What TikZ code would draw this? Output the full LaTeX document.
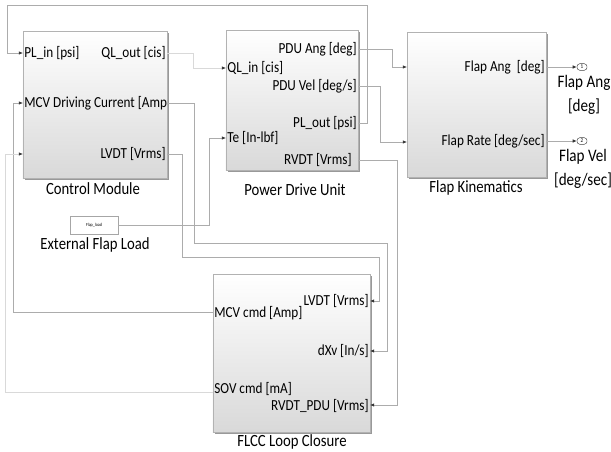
\documentclass[tikz,border=0pt]{standalone}
\usepackage{fontspec}
\setmainfont{Carlito}[FakeStretch=0.86]
\usetikzlibrary{arrows.meta,shadows}

\tikzset{
  blk/.style={draw=gray!60, inner sep=0, top color=white, bottom color=gray!30,
    drop shadow={shadow xshift=1.3pt, shadow yshift=-1.3pt, fill=gray!80, opacity=1}},
  port/.style={inner sep=1pt, font=\fontsize{13.1}{14}\selectfont},
  lbl/.style={inner sep=0, font=\fontsize{14.6}{16}\selectfont},
  outlbl/.style={inner sep=0, align=center, font=\fontsize{15}{20}\selectfont},
  outp/.style={draw=black!75, rounded corners=2.5pt, minimum width=0.3cm,
    minimum height=0.2cm, inner sep=0, font=\fontsize{5}{5}\selectfont},
  wire/.style={draw=gray!65, line width=0.6pt},
  lwire/.style={draw=gray!30, line width=0.6pt},
  sarrow/.style={-{Latex[length=3.5pt,width=3pt,color=black!80]}}
}

\begin{document}
\begin{tikzpicture}[x=0.03cm, y=-0.03cm]
    \useasboundingbox (0,0) rectangle (611,452);

    % blocks
    \node[blk, minimum width=4.32cm, minimum height=4.41cm] (cm) at (95,104.5) {};
    \node[blk, minimum width=3.96cm, minimum height=4.2cm] (pdu) at (292,100) {};
    \node[blk, minimum width=4.17cm, minimum height=4.35cm] (fk) at (476.5,104.5) {};
    \node[blk, minimum width=4.71cm, minimum height=4.74cm] (flcc) at (291.5,353) {};
    \node[draw=gray!70, fill=white, minimum width=1.44cm, minimum height=0.54cm,
          inner sep=0, font=\fontsize{4}{4}\selectfont] (load) at (94,225) {Flap\_load};

    \node[lbl] (cmL) at (93,189) {Control Module};
    \node[lbl] (pduL) at (295,190) {Power Drive Unit};
    \node[lbl] (fkL) at (476,188) {Flap Kinematics};
    \node[lbl] (flccL) at (292,442) {FLCC Loop Closure};
    \node[lbl] (loadL) at (95,245) {External Flap Load};

    % ports
    \coordinate (cmi1) at (23,53);
    \coordinate (cmi2) at (23,103);
    \coordinate (cmi3) at (23,154);
    \coordinate (cmo1) at (167,53);
    \coordinate (cmo2) at (167,103);
    \coordinate (cmo3) at (167,154);
    \coordinate (pdui1) at (226,68);
    \coordinate (pdui2) at (226,138);
    \coordinate (pduo1) at (358,49);
    \coordinate (pduo2) at (358,86);
    \coordinate (pduo3) at (358,123);
    \coordinate (pduo4) at (358,160);
    \coordinate (fki1) at (407,67);
    \coordinate (fki2) at (407,142);
    \coordinate (fko1) at (546,67);
    \coordinate (fko2) at (546,141);
    \coordinate (flcci1) at (370,301);
    \coordinate (flcci2) at (370,351);
    \coordinate (flcci3) at (370,405);
    \coordinate (flcco1) at (213,312);
    \coordinate (flcco2) at (213,392);

    \node[port, anchor=west] (cmP1) at (cmi1) {PL\_in [psi]};
    \node[port, anchor=west] (cmP2) at (cmi2) {MCV Driving Current [Amp};
    \node[port, anchor=east] (cmP3) at (cmo1) {QL\_out [cis]};
    \node[port, anchor=east] (cmP4) at (cmo3) {LVDT [Vrms]};

    \node[port, anchor=west] (pduP1) at (pdui1) {QL\_in [cis]};
    \node[port, anchor=west] (pduP2) at (pdui2) {Te [In-lbf]};
    \node[port, anchor=east] (pduP3) at (pduo1) {PDU Ang [deg]};
    \node[port, anchor=east] (pduP4) at (pduo2) {PDU Vel [deg/s]};
    \node[port, anchor=east] (pduP5) at (pduo3) {PL\_out [psi]};
    \node[port, anchor=east] (pduP6) at ([xshift=-0.15cm]pduo4) {RVDT [Vrms]};

    \node[port, anchor=east] (fkP1) at (fko1) {Flap Ang\ \ [deg]};
    \node[port, anchor=east] (fkP2) at (fko2) {Flap Rate [deg/sec]};

    \node[port, anchor=east] (flccP1) at (flcci1) {LVDT [Vrms]};
    \node[port, anchor=east] (flccP2) at (flcci2) {dXv [In/s]};
    \node[port, anchor=east] (flccP3) at ([yshift=-0.03cm]flcci3) {RVDT\_PDU [Vrms]};
    \node[port, anchor=west] (flccP4) at ([yshift=-0.03cm]flcco1) {MCV cmd [Amp]};
    \node[port, anchor=west] (flccP5) at ([yshift=0.09cm]flcco2) {SOV cmd [mA]};

    % outports
    \node[outp] (out1) at (582,67) {1};
    \node[outp] (out2) at (582,141) {2};
    \node[outlbl] (out1L) at (584,95) {Flap Ang\\{}[deg]};
    \node[outlbl] (out2L) at (583,169) {Flap Vel\\{}[deg/sec]};

    % connections
    \draw[wire,sarrow] (pduo3) -- (367,123) -- (367,5) -- (7,5) |- (cmi1);
    \draw[lwire,sarrow] (cmo1) -- (193,53) |- (pdui1);
    \draw[wire,sarrow] (pduo1) -- (392,49) |- (fki1);
    \draw[wire,sarrow] (pduo2) -- (380,86) |- (fki2);
    \draw[wire,sarrow] (fko1) -- (out1);
    \draw[wire,sarrow] (fko2) -- (out2);
    \draw[wire,sarrow] (load) -- (209,225) |- (pdui2);
    \draw[wire,sarrow] (cmo2) -- (194,103) -- (194,243) -- (387,243) |- (flcci2);
    \draw[wire,sarrow] (cmo3) -- (182,154) -- (182,257) -- (379,257) |- (flcci1);
    \draw[wire,sarrow] (pduo4) -- (397,160) |- (flcci3);
    \draw[wire,sarrow] (flcco1) -- (13,312) |- (cmi2);
    \draw[lwire,sarrow] (flcco2) -- (5,392) |- (cmi3);

\end{tikzpicture}
\end{document}
